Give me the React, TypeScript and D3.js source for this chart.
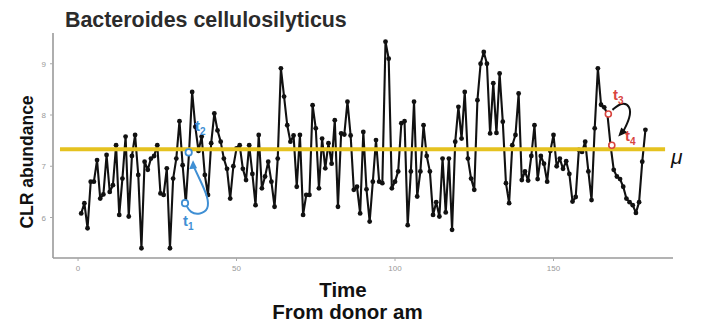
import React from "react";
import * as d3 from "d3";

const times: number[] = Array.from({ length: 179 }, (_, i) => i + 1);
const abundance: number[] = [
  6.08, 6.28, 5.79, 6.70, 6.70, 7.12, 6.37, 6.45, 7.22, 6.50,
  6.63, 7.41, 6.05, 6.76, 7.58, 6.02, 7.20, 7.61, 6.83, 5.40,
  7.09, 6.93, 7.15, 7.20, 7.41, 6.47, 6.44, 6.96, 5.40, 6.76,
  7.15, 7.88, 7.02, 6.28, 7.25, 8.45, 7.77, 7.30, 7.58, 6.83,
  6.44, 7.45, 8.03, 7.70, 7.48, 7.15, 6.95, 6.37, 7.00, 7.35,
  7.41, 6.95, 6.73, 7.41, 6.85, 6.24, 7.61, 6.57, 6.80, 7.09,
  6.70, 6.21, 7.15, 8.91, 8.36, 7.80, 7.48, 7.60, 6.60, 7.61,
  6.05, 6.44, 6.44, 8.19, 7.74, 6.57, 7.54, 6.96, 7.45, 7.05,
  7.90, 6.21, 7.64, 7.62, 8.26, 7.60, 6.54, 6.60, 6.08, 7.67,
  6.55, 5.92, 6.70, 7.51, 6.70, 6.67, 9.43, 9.10, 6.57, 6.70,
  6.90, 7.84, 7.88, 5.85, 6.90, 8.26, 6.41, 6.90, 7.80, 7.20,
  6.90, 6.05, 6.30, 6.02, 7.15, 6.10, 7.15, 5.76, 7.48, 8.16,
  7.54, 8.45, 7.15, 6.76, 6.54, 8.29, 9.00, 9.23, 9.00, 7.64,
  8.62, 7.65, 8.81, 7.87, 6.67, 6.28, 7.41, 7.61, 8.42, 6.73,
  6.90, 6.72, 7.20, 7.80, 6.75, 7.20, 7.05, 6.70, 7.30, 7.61,
  7.00, 7.15, 6.95, 7.10, 6.85, 6.31, 6.40, 7.32, 7.28, 7.48,
  6.90, 6.34, 7.74, 8.91, 8.20, 8.15, 8.02, 7.41, 6.93, 6.80,
  6.75, 6.60, 6.37, 6.30, 6.24, 6.09, 6.30, 7.09, 7.71,
];
const meanValue = 7.33;
const xTicks: number[] = [0, 50, 100, 150];
const yTicks: number[] = [6, 7, 8, 9];
const title = "Bacteroides cellulosilyticus";
const yLabel = "CLR abundance";
const xLabel = "Time";
const subLabel = "From donor am";

// annotation paths in data space
const blueLoop: [number, number][] = [
  [33.75, 6.28], [35.5, 6.08], [38.5, 6.06], [41.2, 6.15], [41.0, 6.4], [38.5, 6.73], [36.6, 6.98],
];
const redArc: [number, number][] = [
  [168.6, 8.1], [171.5, 8.25], [174.3, 8.18], [174.2, 7.95], [172.0, 7.68],
];

export default function App() {
  const W = 706, H = 322;
  const x = d3.scaleLinear().domain([-7.9, 187.7]).range([53, 673]);
  const y = d3.scaleLinear().domain([5.21, 9.6]).range([258, 33]);
  const line = d3.line<number>().x((_, i) => x(times[i])).y((d) => y(d));
  const curve = d3.line<[number, number]>().x((d) => x(d[0])).y((d) => y(d[1])).curve(d3.curveBasis);
  const blue = "#3f8fd4";
  const red = "#d8443e";
  const bEnd = blueLoop[blueLoop.length - 1];
  const rEnd = redArc[redArc.length - 1];
  const sans = "'Liberation Sans', Arial, sans-serif";
  return (
    <svg width={W} height={H} style={{ position: "absolute", left: 0, top: 0, background: "#fff" }}
      fontFamily={sans}>
      <rect width={W} height={H} fill="#fff" />
      <text x={65} y={26.5} fontSize={21.4} fontWeight={700} fill="#2b2b2b">{title}</text>
      {/* axes */}
      <line x1={53} x2={53} y1={33} y2={258} stroke="#9a9a9a" strokeWidth={1.6} />
      <line x1={53} x2={673} y1={258} y2={258} stroke="#9a9a9a" strokeWidth={1.6} />
      {yTicks.map((t) => (
        <g key={"y" + t}>
          <line x1={50} x2={53} y1={y(t)} y2={y(t)} stroke="#aaa" strokeWidth={1} />
          <text x={46} y={y(t) + 3} fontSize={8} fill="#999" textAnchor="end">{t}</text>
        </g>
      ))}
      {xTicks.map((t) => (
        <g key={"x" + t}>
          <line x1={x(t)} x2={x(t)} y1={258} y2={261} stroke="#aaa" strokeWidth={1} />
          <text x={x(t)} y={271} fontSize={8} fill="#999" textAnchor="middle">{t}</text>
        </g>
      ))}
      {/* data */}
      <path d={line(abundance) || ""} fill="none" stroke="#111" strokeWidth={2.1} strokeLinejoin="round" />
      {abundance.map((v, i) => (
        <circle key={i} cx={x(times[i])} cy={y(v)} r={2.4} fill="#111" />
      ))}
      {/* mean line */}
      <line x1={x(-5.7)} x2={x(185.2)} y1={y(meanValue)} y2={y(meanValue)} stroke="#e5c21f" strokeWidth={4} />
      <text x={671} y={164} fontSize={21} fontStyle="italic" fill="#111">μ</text>
      {/* blue annotation */}
      <path d={curve(blueLoop) || ""} fill="none" stroke={blue} strokeWidth={2} />
      <polygon
        points={`${x(bEnd[0]) - 1},${y(bEnd[1]) - 7} ${x(bEnd[0]) - 5},${y(bEnd[1]) + 2} ${x(bEnd[0]) + 3},${y(bEnd[1]) + 1}`}
        fill={blue}
      />
      <circle cx={x(33.75)} cy={y(6.28)} r={3.2} fill="#fff" stroke={blue} strokeWidth={1.8} />
      <circle cx={x(34.9)} cy={y(7.27)} r={3.2} fill="#fff" stroke={blue} strokeWidth={1.8} />
      <text x={183} y={226} fontSize={15} fontWeight={700} fill={blue}>t<tspan fontSize={10} dy={4}>1</tspan></text>
      <text x={195} y={131} fontSize={15} fontWeight={700} fill={blue}>t<tspan fontSize={10} dy={4}>2</tspan></text>
      {/* red annotation */}
      <path d={curve(redArc) || ""} fill="none" stroke="#111" strokeWidth={2} />
      <polygon
        points={`${x(rEnd[0]) - 5},${y(rEnd[1]) + 5} ${x(rEnd[0]) - 2},${y(rEnd[1]) - 4} ${x(rEnd[0]) + 4},${y(rEnd[1]) + 1}`}
        fill="#111"
      />
      <circle cx={x(167.3)} cy={y(8.02)} r={3} fill="#fff" stroke={red} strokeWidth={1.6} />
      <circle cx={x(168.4)} cy={y(7.41)} r={3} fill="#fff" stroke={red} strokeWidth={1.6} />
      <text x={613} y={100} fontSize={15} fontWeight={700} fill={red}>t<tspan fontSize={10} dy={4}>3</tspan></text>
      <text x={625} y={141} fontSize={15} fontWeight={700} fill={red}>t<tspan fontSize={10} dy={4}>4</tspan></text>
      {/* axis titles */}
      <text transform={`translate(33,162) rotate(-90)`} fontSize={17.5} fontWeight={700} fill="#111" textAnchor="middle">{yLabel}</text>
      <text x={343} y={296.5} fontSize={20.5} fontWeight={700} fill="#111" textAnchor="middle">{xLabel}</text>
      <text x={347.5} y={319} fontSize={20.5} fontWeight={700} fill="#111" textAnchor="middle">{subLabel}</text>
    </svg>
  );
}
